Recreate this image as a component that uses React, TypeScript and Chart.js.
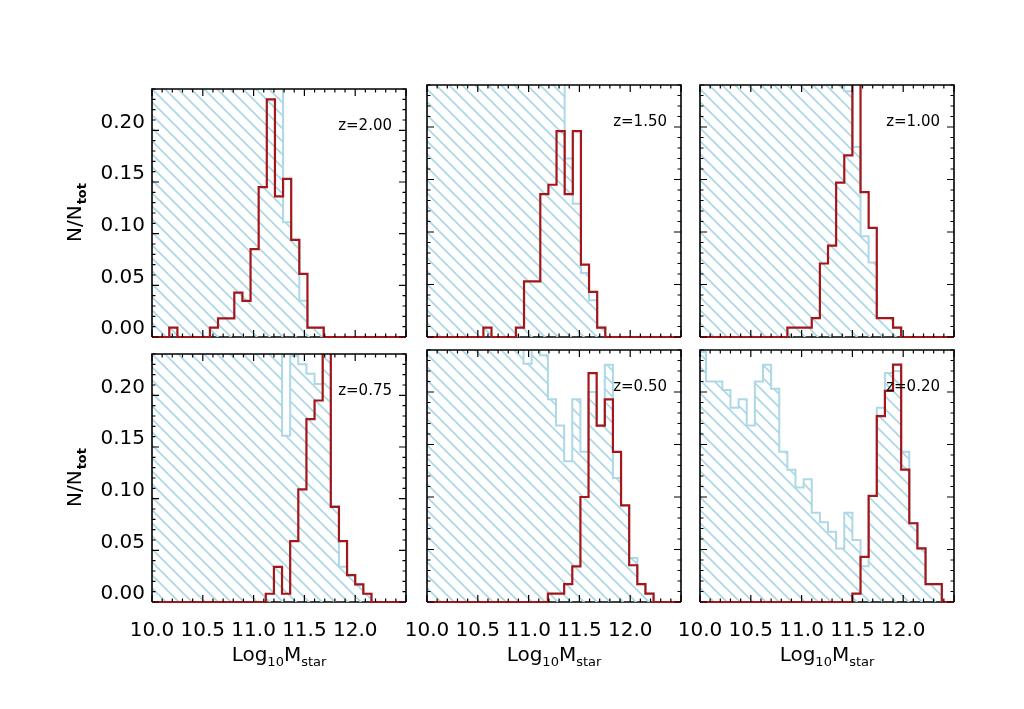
import React, { useEffect, useRef } from 'react';
import { Chart, registerables } from 'chart.js';

Chart.register(...registerables);

// ---------------- data ----------------
const BIN_WIDTH = 0.08;
const zLabels = ['z=2.00', 'z=1.50', 'z=1.00', 'z=0.75', 'z=0.50', 'z=0.20'];
const binStarts = [10.01, 9.995, 9.98, 10.0, 9.99, 9.98];

const blueZ200 = [0.42, 0.45, 0.47, 0.44, 0.46, 0.43, 0.41, 0.40, 0.38, 0.39, 0.36, 0.33, 0.31, 0.30, 0.28, 0.26, 0.111, 0.094, 0.035, 0.009, 0.009, 0];
const redZ200 = [0, 0, 0.009, 0, 0, 0, 0, 0.009, 0.018, 0.018, 0.043, 0.035, 0.085, 0.145, 0.230, 0.136, 0.153, 0.094, 0.061, 0.009, 0.009, 0];

const blueZ150 = [0.44, 0.47, 0.45, 0.46, 0.43, 0.44, 0.42, 0.41, 0.40, 0.38, 0.37, 0.35, 0.33, 0.31, 0.29, 0.27, 0.25, 0.170, 0.127, 0.061, 0.035, 0.009, 0];
const redZ150 = [0, 0, 0, 0, 0, 0, 0, 0.009, 0, 0, 0, 0.009, 0.053, 0.053, 0.136, 0.145, 0.196, 0.136, 0.196, 0.069, 0.043, 0.009, 0];

const blueZ100 = [0.45, 0.46, 0.44, 0.47, 0.45, 0.43, 0.44, 0.42, 0.41, 0.40, 0.39, 0.37, 0.36, 0.34, 0.32, 0.30, 0.28, 0.26, 0.234, 0.181, 0.096, 0.071, 0.018, 0.018, 0.009, 0];
const redZ100 = [0, 0, 0, 0, 0, 0, 0, 0, 0, 0, 0, 0.009, 0.009, 0.009, 0.018, 0.070, 0.087, 0.147, 0.173, 0.28, 0.138, 0.104, 0.018, 0.018, 0.009, 0];

const blueZ075 = [0.46, 0.44, 0.45, 0.43, 0.44, 0.42, 0.41, 0.40, 0.38, 0.37, 0.35, 0.33, 0.31, 0.29, 0.27, 0.25, 0.161, 0.238, 0.230, 0.221, 0.211, 0.26, 0.093, 0.034, 0.026, 0.017, 0.008, 0];
const redZ075 = [0, 0, 0, 0, 0, 0, 0, 0, 0, 0, 0, 0, 0, 0, 0.008, 0.034, 0.008, 0.059, 0.109, 0.177, 0.195, 0.27, 0.092, 0.059, 0.026, 0.017, 0.008, 0];

const blueZ050 = [0.40, 0.38, 0.39, 0.37, 0.36, 0.34, 0.33, 0.31, 0.30, 0.28, 0.27, 0.25, 0.227, 0.26, 0.235, 0.193, 0.168, 0.134, 0.193, 0.143, 0.200, 0.168, 0.226, 0.118, 0.092, 0.042, 0.017, 0.008, 0];
const redZ050 = [0, 0, 0, 0, 0, 0, 0, 0, 0, 0, 0, 0, 0, 0, 0, 0.008, 0.008, 0.017, 0.034, 0.100, 0.218, 0.168, 0.193, 0.143, 0.092, 0.035, 0.017, 0.008, 0];

const blueZ020 = [0.238, 0.210, 0.210, 0.202, 0.185, 0.193, 0.168, 0.210, 0.226, 0.203, 0.143, 0.126, 0.109, 0.117, 0.085, 0.076, 0.067, 0.051, 0.085, 0.059, 0.034, 0.101, 0.185, 0.218, 0.220, 0.143, 0.075, 0.051, 0.017, 0.017, 0];
const redZ020 = [0, 0, 0, 0, 0, 0, 0, 0, 0, 0, 0, 0, 0, 0, 0, 0, 0, 0, 0, 0.008, 0.043, 0.101, 0.177, 0.201, 0.226, 0.126, 0.075, 0.051, 0.017, 0.017, 0];

const blueSeries = [blueZ200, blueZ150, blueZ100, blueZ075, blueZ050, blueZ020];
const redSeries = [redZ200, redZ150, redZ100, redZ075, redZ050, redZ020];

const xTickLabels = ['10.0', '10.5', '11.0', '11.5', '12.0'];
const yTickLabels = ['0.00', '0.05', '0.10', '0.15', '0.20'];

// ---------------- layout / style ----------------
const X_MIN = 10.0;
const X_MAX = 12.5;
const Y_MIN = 0;
const Y_MAX = 0.24;
const FRAME_LEFT = [152, 427, 700];
const FRAME_TOP = [85, 350];
const FRAME_W = 254;
const FRAME_H = 252;
const PAD_LEFT = 110;
const PAD_TOP = 15;
const PAD_RIGHT = 15;
const PAD_BOTTOM = 85;
const BLUE = 'rgb(173,216,230)';
const RED = '#a3161a';
const FONT = 'DejaVu Sans';

function makeHatch(ctx: CanvasRenderingContext2D): CanvasPattern | string {
  const s = 13;
  const c = document.createElement('canvas');
  c.width = s;
  c.height = s;
  const g = c.getContext('2d');
  if (!g) return BLUE;
  g.strokeStyle = BLUE;
  g.lineWidth = 1.8;
  g.beginPath();
  for (const off of [-s, 0, s]) {
    g.moveTo(-s, -s + off);
    g.lineTo(2 * s, 2 * s + off);
  }
  g.stroke();
  return ctx.createPattern(c, 'repeat') || BLUE;
}

function toSteps(values: number[], start: number) {
  const pts = [{ x: 9.0, y: values[0] }];
  values.forEach((v, i) => pts.push({ x: start + i * BIN_WIDTH, y: v }));
  pts.push({ x: start + values.length * BIN_WIDTH, y: 0 });
  pts.push({ x: 13.5, y: 0 });
  return pts;
}

function nearMultiple(v: number, step: number) {
  const r = v / step;
  return Math.abs(r - Math.round(r)) < 1e-6;
}

function Panel({ idx }: { idx: number }) {
  const ref = useRef<HTMLCanvasElement | null>(null);
  const col = idx % 3;
  const row = Math.floor(idx / 3);
  const W = PAD_LEFT + FRAME_W + PAD_RIGHT;
  const H = PAD_TOP + FRAME_H + PAD_BOTTOM;

  useEffect(() => {
    const canvas = ref.current;
    if (!canvas) return;
    const ctx = canvas.getContext('2d');
    if (!ctx) return;
    const hatch = makeHatch(ctx);

    const decor = {
      id: 'decor' + idx,
      beforeDatasetsDraw(chart: any) {
        const { ctx: c, chartArea: a } = chart;
        c.save();
        c.strokeStyle = '#000';
        c.lineWidth = 1.6;
        c.beginPath();
        c.moveTo(a.left, a.bottom);
        c.lineTo(a.right, a.bottom);
        c.stroke();
        c.restore();
      },
      afterDatasetsDraw(chart: any) {
        const { ctx: c, chartArea: a } = chart;
        const xs = chart.scales.x;
        const ys = chart.scales.y;
        c.save();
        c.strokeStyle = '#000';
        c.lineWidth = 1.6;
        c.beginPath();
        c.moveTo(a.left, a.bottom);
        c.lineTo(a.left, a.top);
        c.lineTo(a.right, a.top);
        c.lineTo(a.right, a.bottom);
        c.stroke();
        // ticks
        c.lineWidth = 1.2;
        c.beginPath();
        for (let k = 0; k <= 25; k++) {
          const v = X_MIN + k * 0.1;
          const px = xs.getPixelForValue(v);
          const len = k % 5 === 0 ? 7 : 3.5;
          c.moveTo(px, a.bottom);
          c.lineTo(px, a.bottom - len);
          c.moveTo(px, a.top);
          c.lineTo(px, a.top + len);
        }
        for (let k = 0; k <= 24; k++) {
          const v = Y_MIN + k * 0.01;
          const py = ys.getPixelForValue(v);
          const len = k % 5 === 0 ? 7 : 3.5;
          c.moveTo(a.left, py);
          c.lineTo(a.left + len, py);
          c.moveTo(a.right, py);
          c.lineTo(a.right - len, py);
        }
        c.stroke();
        // z label
        c.fillStyle = '#000';
        c.font = `15px "${FONT}"`;
        c.textAlign = 'right';
        c.textBaseline = 'middle';
        c.fillText(zLabels[idx], a.right - 14, a.top + 37);
        c.restore();
      },
      afterDraw(chart: any) {
        const { ctx: c, chartArea: a } = chart;
        c.save();
        c.fillStyle = '#000';
        c.textBaseline = 'alphabetic';
        c.textAlign = 'left';
        if (col === 0) {
          // y title: N/N_tot
          c.translate(a.left - 78, (a.top + a.bottom) / 2);
          c.rotate(-Math.PI / 2);
          c.font = `20px "${FONT}"`;
          const main = 'N/N';
          const w1 = c.measureText(main).width;
          c.font = `bold 13px "${FONT}"`;
          const w2 = c.measureText('tot').width;
          const x0 = -(w1 + w2) / 2;
          c.font = `20px "${FONT}"`;
          c.fillText(main, x0, 7);
          c.font = `bold 13px "${FONT}"`;
          c.fillText('tot', x0 + w1 + 1, 12);
          c.setTransform(1, 0, 0, 1, 0, 0);
        }
        if (row === 1) {
          const parts: [string, number, number][] = [
            ['Log', 20, 0],
            ['10', 13, 5],
            ['M', 20, 0],
            ['star', 13, 5],
          ];
          let total = 0;
          const widths = parts.map(([t, s]) => {
            c.font = `${s}px "${FONT}"`;
            const w = c.measureText(t).width;
            total += w;
            return w;
          });
          let x = (a.left + a.right) / 2 - total / 2;
          const base = a.bottom + 59;
          parts.forEach(([t, s, dy], i) => {
            c.font = `${s}px "${FONT}"`;
            c.fillText(t, x, base + dy);
            x += widths[i];
          });
        }
        c.restore();
      },
    };

    const chart = new Chart(canvas, {
      type: 'line',
      data: {
        datasets: [
          {
            label: 'all',
            data: toSteps(blueSeries[idx], binStarts[idx]),
            stepped: 'before',
            borderColor: BLUE,
            borderWidth: 2,
            backgroundColor: hatch as any,
            fill: 'origin',
            pointRadius: 0,
            order: 2,
            clip: { left: 0, top: 0, right: 0, bottom: 0 } as any,
          },
          {
            label: 'selected',
            data: toSteps(redSeries[idx], binStarts[idx]),
            stepped: 'before',
            borderColor: RED,
            borderWidth: 2.2,
            fill: false,
            pointRadius: 0,
            order: 1,
            clip: { left: 0, top: 0, right: 0, bottom: 2 } as any,
          },
        ],
      },
      options: {
        animation: false,
        responsive: false,
        maintainAspectRatio: false,
        layout: { padding: { left: 0, top: PAD_TOP, right: PAD_RIGHT, bottom: 0 } },
        plugins: { legend: { display: false }, tooltip: { enabled: false } },
        scales: {
          x: {
            type: 'linear',
            min: X_MIN,
            max: X_MAX,
            afterFit: (s: any) => {
              s.height = PAD_BOTTOM;
            },
            grid: { display: false, drawTicks: false },
            border: { display: false },
            ticks: {
              display: row === 1,
              stepSize: 0.5,
              autoSkip: false,
              maxRotation: 0,
              padding: 17,
              color: '#000',
              font: { family: FONT, size: 20 },
              callback: (v: any) => {
                const n = Number(v);
                const lab = xTickLabels.find((t) => Math.abs(parseFloat(t) - n) < 1e-6);
                return lab ?? null;
              },
            },
          },
          y: {
            type: 'linear',
            min: Y_MIN,
            max: Y_MAX,
            afterFit: (s: any) => {
              s.width = PAD_LEFT;
            },
            grid: { display: false, drawTicks: false },
            border: { display: false },
            ticks: {
              display: col === 0,
              stepSize: 0.05,
              padding: 7,
              labelOffset: -8,
              color: '#000',
              font: { family: FONT, size: 20 },
              callback: (v: any) => {
                const n = Number(v);
                if (!nearMultiple(n, 0.05)) return null;
                const lab = yTickLabels.find((t) => Math.abs(parseFloat(t) - n) < 1e-6);
                return lab ?? null;
              },
            },
          },
        },
      },
      plugins: [decor],
    });
    return () => chart.destroy();
  }, [idx]);

  return (
    <canvas
      ref={ref}
      width={W}
      height={H}
      style={{
        position: 'absolute',
        left: FRAME_LEFT[col] - PAD_LEFT,
        top: FRAME_TOP[row] - PAD_TOP,
        width: W,
        height: H,
      }}
    />
  );
}

export default function App() {
  return (
    <div
      style={{
        position: 'absolute',
        left: 0,
        top: 0,
        width: 1024,
        height: 709,
        background: '#fff',
        overflow: 'hidden',
      }}
    >
      {[0, 1, 2, 3, 4, 5].map((i) => (
        <Panel key={i} idx={i} />
      ))}
    </div>
  );
}
